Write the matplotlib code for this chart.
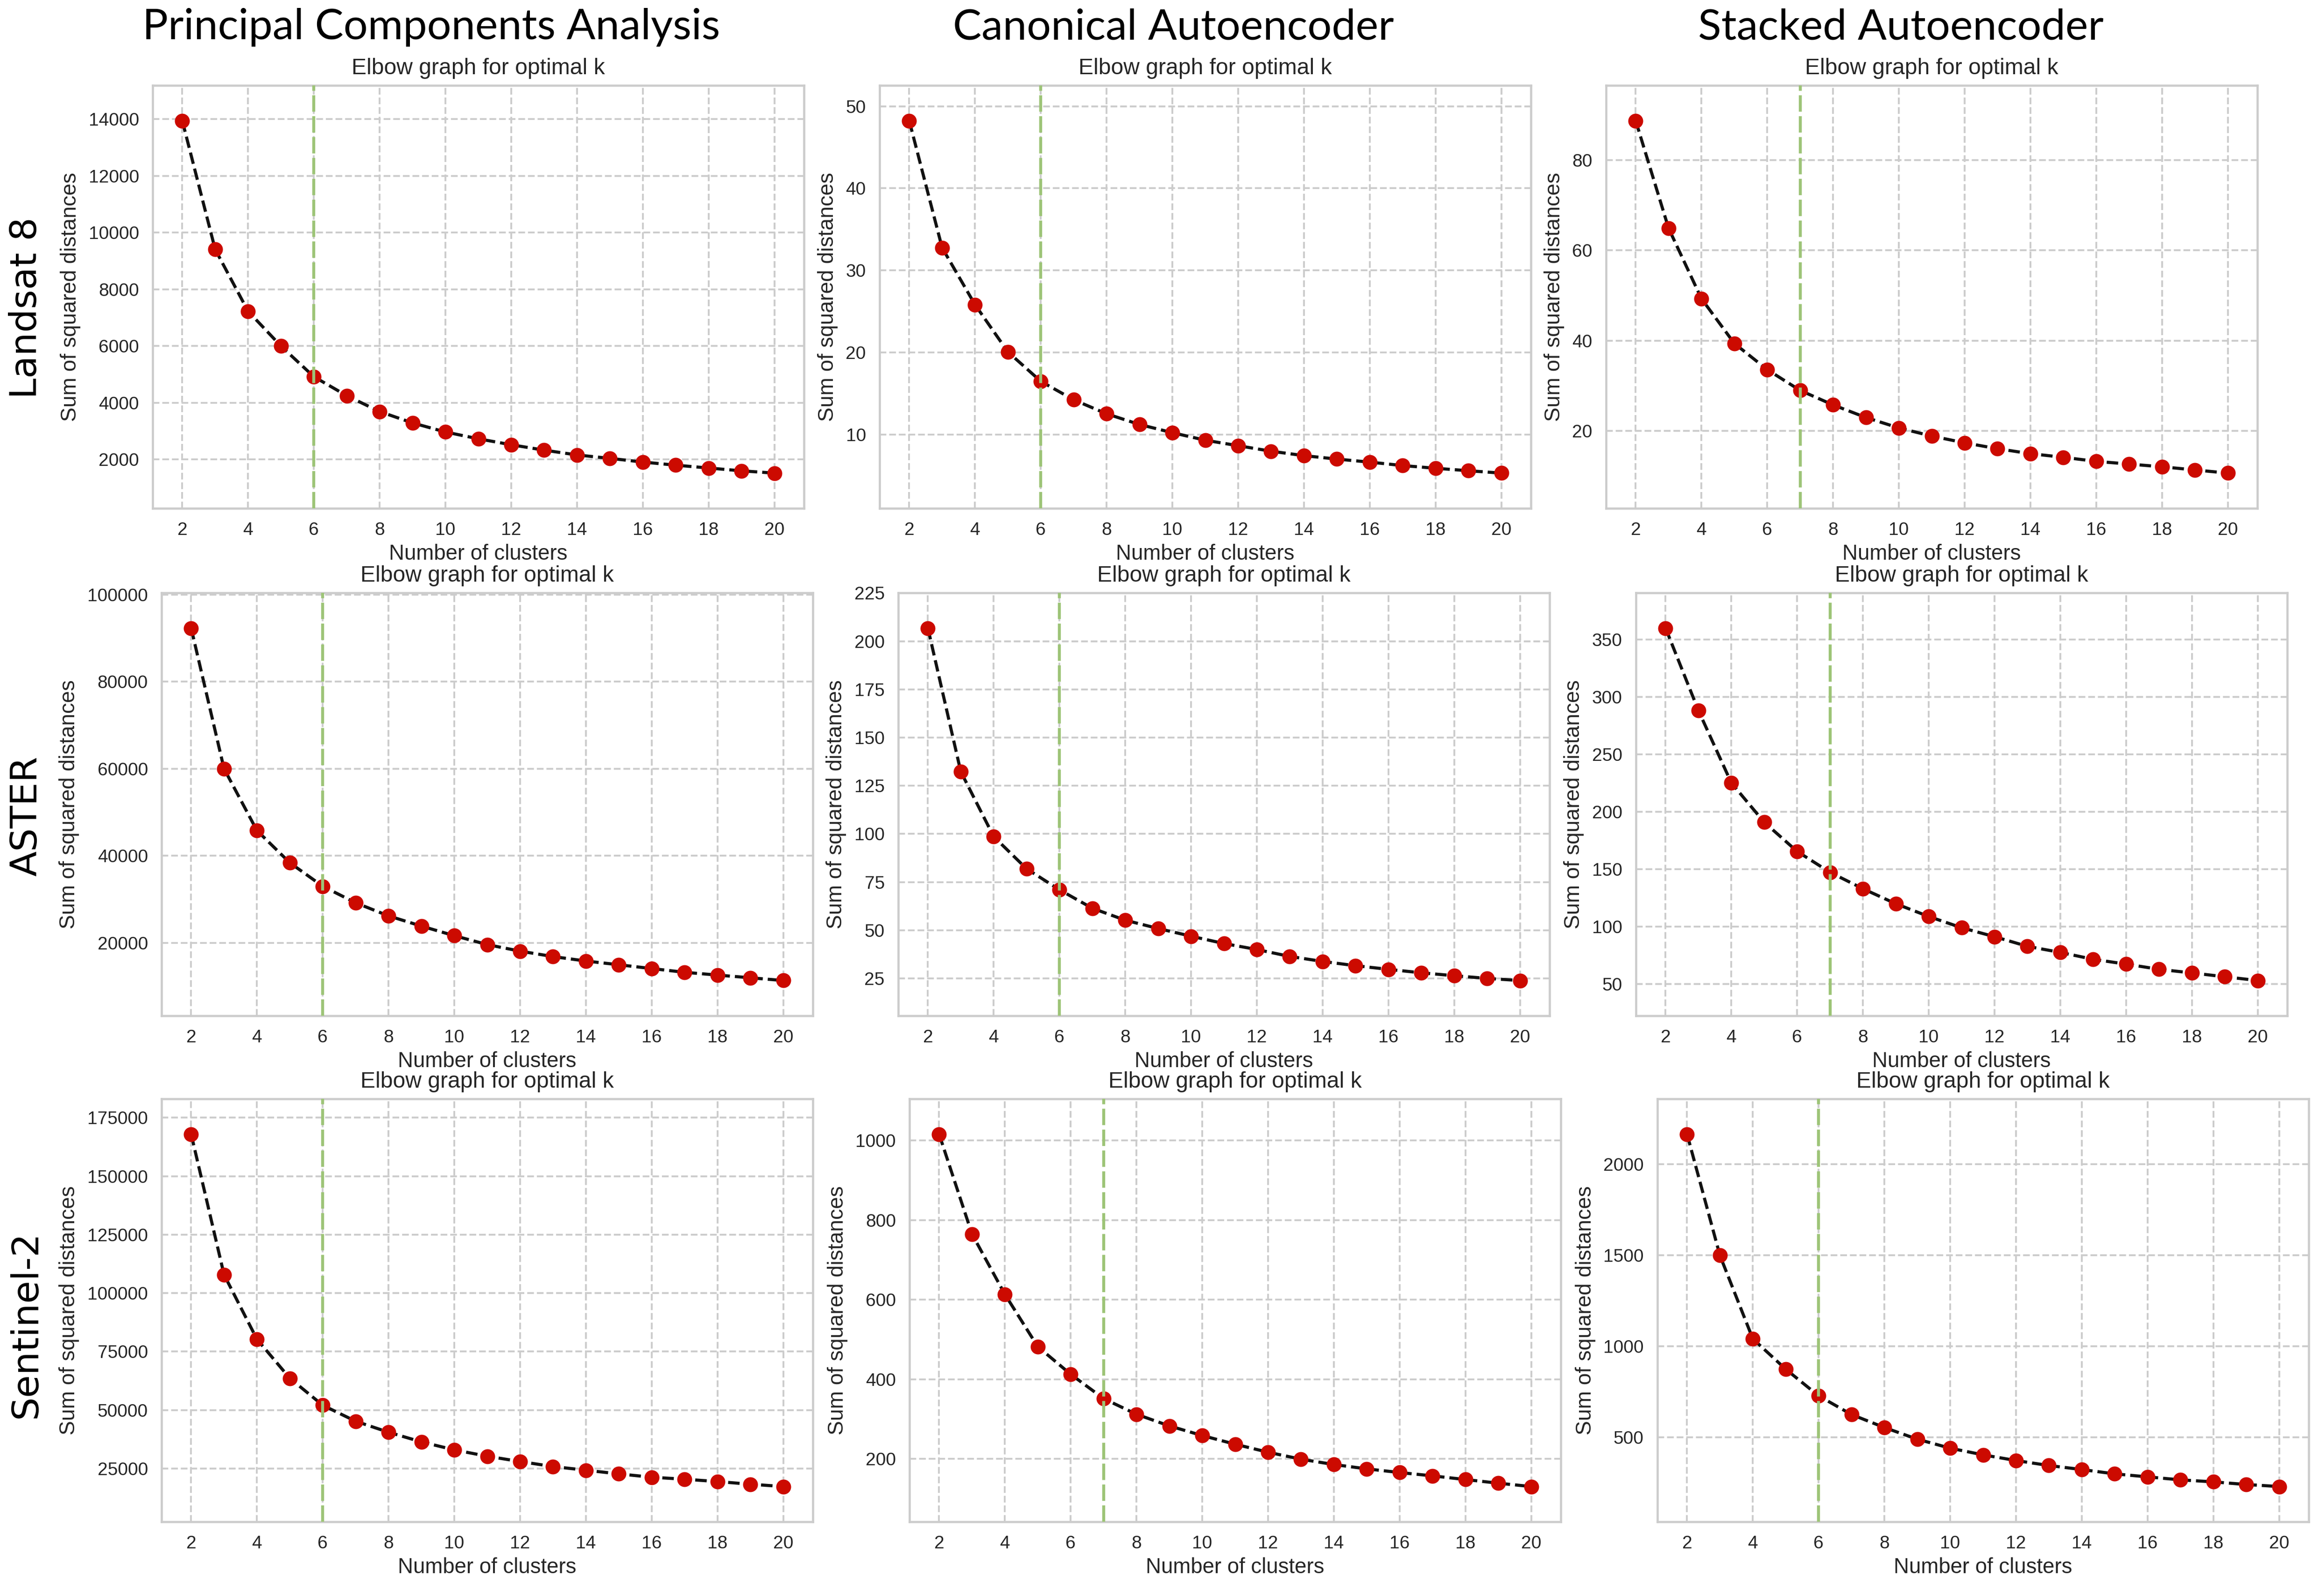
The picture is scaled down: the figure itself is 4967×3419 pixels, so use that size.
import matplotlib
matplotlib.use('Agg')
import matplotlib.pyplot as plt
from matplotlib.ticker import MultipleLocator

# ---------------- data ----------------
k_values = list(range(2, 21))

col_titles = ['Principal Components Analysis', 'Canonical Autoencoder', 'Stacked Autoencoder']
row_labels = ['Landsat 8', 'ASTER', 'Sentinel-2']

landsat_pca = [13950, 9410, 7230, 6000, 4920, 4250, 3690, 3290, 2970, 2730,
               2520, 2330, 2160, 2040, 1910, 1800, 1700, 1600, 1520]
landsat_cae = [48.25, 32.76, 25.82, 20.06, 16.47, 14.22, 12.51, 11.21, 10.21, 9.29,
               8.62, 7.95, 7.41, 6.99, 6.62, 6.20, 5.87, 5.57, 5.28]
landsat_sae = [88.7, 64.9, 49.3, 39.4, 33.6, 29.0, 25.8, 23.0, 20.7, 18.9,
               17.4, 16.1, 15.0, 14.2, 13.3, 12.7, 12.1, 11.4, 10.7]

aster_pca = [92300, 60000, 45800, 38400, 33000, 29200, 26200, 23850, 21650, 19600,
             18100, 16850, 15830, 14970, 14100, 13240, 12600, 11980, 11350]
aster_cae = [206.8, 132.3, 98.6, 81.9, 71.0, 61.4, 55.2, 50.9, 46.9, 43.1,
             40.0, 36.4, 33.8, 31.6, 29.7, 27.9, 26.4, 25.0, 23.9]
aster_sae = [360.1, 288.2, 225.2, 190.9, 165.5, 147.3, 133.0, 119.9, 108.8, 99.0,
             91.2, 82.8, 77.5, 71.5, 67.3, 62.8, 59.6, 56.3, 53.0]

sentinel_pca = [168000, 107900, 80300, 63600, 52070, 45230, 40530, 36400, 32980, 30270,
                28000, 25860, 24290, 22720, 21300, 20440, 19440, 18300, 17310]
sentinel_cae = [1015.9, 764.9, 613.4, 482.0, 412.6, 351.5, 312.1, 282.8, 258.6, 236.8,
                216.7, 199.2, 185.8, 174.9, 165.7, 157.3, 148.1, 138.9, 130.5]
sentinel_sae = [2164.8, 1498.2, 1040.3, 873.6, 727.1, 624.5, 553.1, 489.0, 439.6, 402.9,
                371.8, 344.3, 322.3, 298.5, 282.0, 265.6, 254.6, 240.0, 228.9]

series = [[landsat_pca, landsat_cae, landsat_sae],
          [aster_pca, aster_cae, aster_sae],
          [sentinel_pca, sentinel_cae, sentinel_sae]]
optimal_k = [[6, 6, 7],
             [6, 6, 7],
             [6, 7, 6]]

# ---------------- style ----------------
TEXT = '#262626'
GRID = '#cccccc'
plt.rcParams.update({
    'font.family': ['Liberation Sans', 'DejaVu Sans'],
    'text.color': TEXT,
    'axes.labelcolor': TEXT,
    'xtick.color': TEXT,
    'ytick.color': TEXT,
    'axes.edgecolor': GRID,
    'axes.linewidth': 1.7,
    'axes.facecolor': 'white',
    'figure.facecolor': 'white',
    'xtick.major.size': 0,
    'ytick.major.size': 0,
    'xtick.major.pad': 10.5,
    'ytick.major.pad': 10.5,
})

W, H, DPI = 4967, 3419, 200
fig = plt.figure(figsize=(W / DPI, H / DPI), dpi=DPI)

# axes placements (pixels: left, top) – each panel 1395 x 906 px
lefts = [[327, 1884, 3440],
         [346, 1924, 3504],
         [346, 1948, 3550]]
tops = [183, 1270, 2354]
aw, ah = 1395, 906

for r in range(3):
    for c in range(3):
        x0 = lefts[r][c] / W
        y0 = 1 - (tops[r] + ah) / H
        ax = fig.add_axes([x0, y0, aw / W, ah / H])
        ax.plot(k_values, series[r][c], linestyle='--', color='#111111', lw=2.4,
                marker='o', ms=10.5, mfc='#cc0a00', mec='#cc0a00', zorder=2)
        ax.axvline(optimal_k[r][c], color='#9dc477', lw=2.3, dashes=(5.5, 1.5), zorder=3)
        ax.margins(x=0.05, y=0.1)
        ax.xaxis.set_major_locator(MultipleLocator(2))
        ax.grid(True, linestyle='--', color=GRID, lw=1.4)
        ax.set_axisbelow(True)
        ax.tick_params(labelsize=14)
        ax.set_title('Elbow graph for optimal k', fontsize=17.3, pad=8.5)
        ax.set_xlabel('Number of clusters', fontsize=16.4, labelpad=4)
        ax.set_ylabel('Sum of squared distances', fontsize=16.6, labelpad=6)
        for s in ax.spines.values():
            s.set_color(GRID)
            s.set_linewidth(1.7)

# column titles
col_x = [924, 2513, 4071]
for c in range(3):
    fig.text(col_x[c] / W, 1 - 59 / H, col_titles[c], ha='center', va='center',
             fontsize=33, family=['Lato', 'DejaVu Sans'], color='black')

# row labels
row_y = [660, 1748, 2837]
for r in range(3):
    fig.text(56 / W, 1 - row_y[r] / H, row_labels[r], ha='center', va='center',
             rotation=90, fontsize=28.5, family=['DejaVu Sans'], color='black')

fig.savefig('out.png', dpi=DPI)
